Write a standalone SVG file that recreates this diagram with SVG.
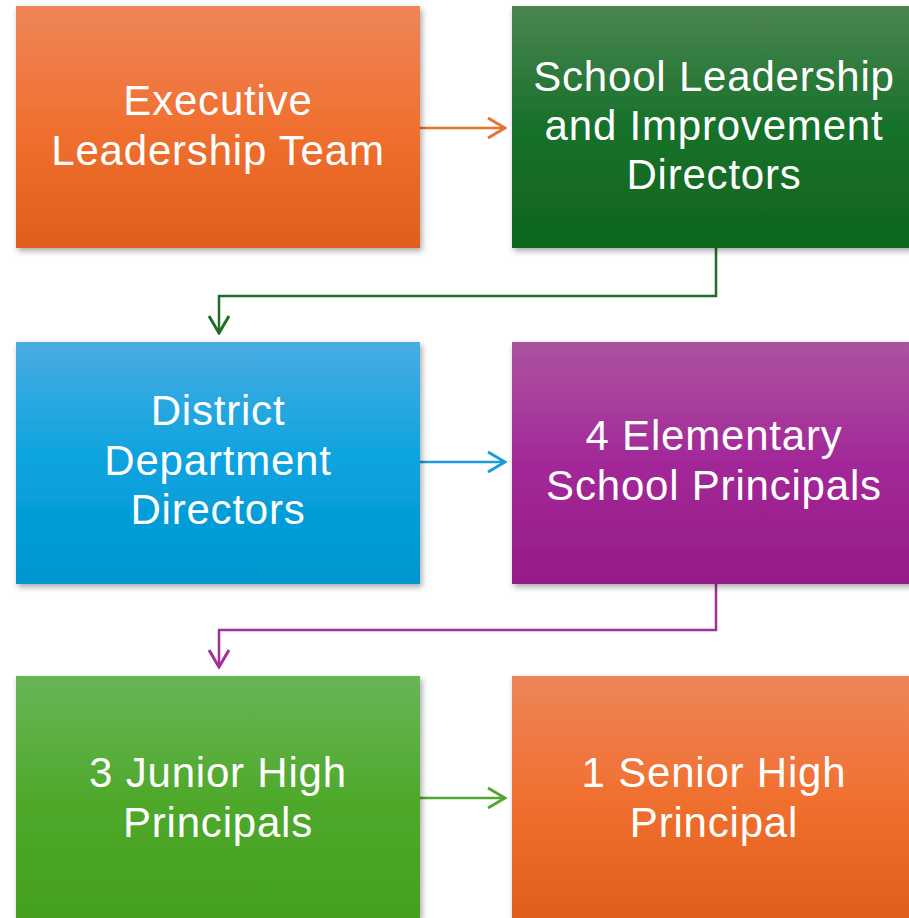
<svg xmlns="http://www.w3.org/2000/svg" width="909" height="918" viewBox="0 0 909 918">
<defs>
<linearGradient id="gOrange" x1="0" y1="0" x2="0" y2="1"><stop offset="0" stop-color="#EE8559"/><stop offset="0.5" stop-color="#F07030"/><stop offset="1" stop-color="#E15E1B"/></linearGradient>
<linearGradient id="gDark" x1="0" y1="0" x2="0" y2="1"><stop offset="0" stop-color="#4B8452"/><stop offset="0.5" stop-color="#17712A"/><stop offset="1" stop-color="#0F661E"/></linearGradient>
<linearGradient id="gBlue" x1="0" y1="0" x2="0" y2="1"><stop offset="0" stop-color="#48ACE2"/><stop offset="0.5" stop-color="#0AA3DF"/><stop offset="1" stop-color="#0096CF"/></linearGradient>
<linearGradient id="gPurple" x1="0" y1="0" x2="0" y2="1"><stop offset="0" stop-color="#AC539F"/><stop offset="0.5" stop-color="#A22898"/><stop offset="1" stop-color="#961C86"/></linearGradient>
<linearGradient id="gGreen" x1="0" y1="0" x2="0" y2="1"><stop offset="0" stop-color="#69B556"/><stop offset="0.5" stop-color="#4FA92C"/><stop offset="1" stop-color="#44A020"/></linearGradient>
<filter id="sh" x="-5%" y="-5%" width="115%" height="115%"><feDropShadow dx="2" dy="3" stdDeviation="3" flood-color="#000" flood-opacity="0.35"/></filter>
<marker id="aO" viewBox="0 0 20 24" refX="18" refY="12" markerWidth="20" markerHeight="24" markerUnits="userSpaceOnUse" orient="auto"><path d="M1,2 L18,12 L1,22" fill="none" stroke="#E97132" stroke-width="3"/></marker>
<marker id="aD" viewBox="0 0 20 24" refX="18" refY="12" markerWidth="20" markerHeight="24" markerUnits="userSpaceOnUse" orient="auto"><path d="M1,2 L18,12 L1,22" fill="none" stroke="#1E6E28" stroke-width="3"/></marker>
<marker id="aB" viewBox="0 0 20 24" refX="18" refY="12" markerWidth="20" markerHeight="24" markerUnits="userSpaceOnUse" orient="auto"><path d="M1,2 L18,12 L1,22" fill="none" stroke="#1A9CD8" stroke-width="3"/></marker>
<marker id="aP" viewBox="0 0 20 24" refX="18" refY="12" markerWidth="20" markerHeight="24" markerUnits="userSpaceOnUse" orient="auto"><path d="M1,2 L18,12 L1,22" fill="none" stroke="#A2309A" stroke-width="3"/></marker>
<marker id="aG" viewBox="0 0 20 24" refX="18" refY="12" markerWidth="20" markerHeight="24" markerUnits="userSpaceOnUse" orient="auto"><path d="M1,2 L18,12 L1,22" fill="none" stroke="#4EA72E" stroke-width="3"/></marker>
</defs>
<style>
text{font-family:"Liberation Sans",Arial,sans-serif;font-size:42px;letter-spacing:0.8px;fill:#fff;text-anchor:middle}
.c{fill:none;stroke-width:2.5}
</style>
<rect width="909" height="918" fill="#fff"/>
<g id="connectors">
<path class="c" d="M420,128 H505" stroke="#E97132" marker-end="url(#aO)"/>
<path class="c" d="M716,248 V296 H219 V333" stroke="#1E6E28" marker-end="url(#aD)"/>
<path class="c" d="M420,462 H505" stroke="#1A9CD8" marker-end="url(#aB)"/>
<path class="c" d="M716,584 V630 H219 V667" stroke="#A2309A" marker-end="url(#aP)"/>
<path class="c" d="M420,798 H505" stroke="#4EA72E" marker-end="url(#aG)"/>
</g>
<g id="executive">
<rect x="16" y="6" width="404" height="242" fill="url(#gOrange)" filter="url(#sh)"/>
<text x="218" y="115">Executive</text>
<text x="218" y="165">Leadership Team</text>
</g>
<g id="school-leadership">
<rect x="512" y="6" width="404" height="242" fill="url(#gDark)" filter="url(#sh)"/>
<text x="714" y="91">School Leadership</text>
<text x="714" y="140">and Improvement</text>
<text x="714" y="189">Directors</text>
</g>
<g id="district">
<rect x="16" y="342" width="404" height="242" fill="url(#gBlue)" filter="url(#sh)"/>
<text x="218" y="425">District</text>
<text x="218" y="475">Department</text>
<text x="218" y="524">Directors</text>
</g>
<g id="elementary">
<rect x="512" y="342" width="404" height="242" fill="url(#gPurple)" filter="url(#sh)"/>
<text x="714" y="450">4 Elementary</text>
<text x="714" y="500">School Principals</text>
</g>
<g id="junior">
<rect x="16" y="676" width="404" height="242" fill="url(#gGreen)" filter="url(#sh)"/>
<text x="218" y="787">3 Junior High</text>
<text x="218" y="837">Principals</text>
</g>
<g id="senior">
<rect x="512" y="676" width="404" height="242" fill="url(#gOrange)" filter="url(#sh)"/>
<text x="714" y="787">1 Senior High</text>
<text x="714" y="837">Principal</text>
</g>
</svg>
